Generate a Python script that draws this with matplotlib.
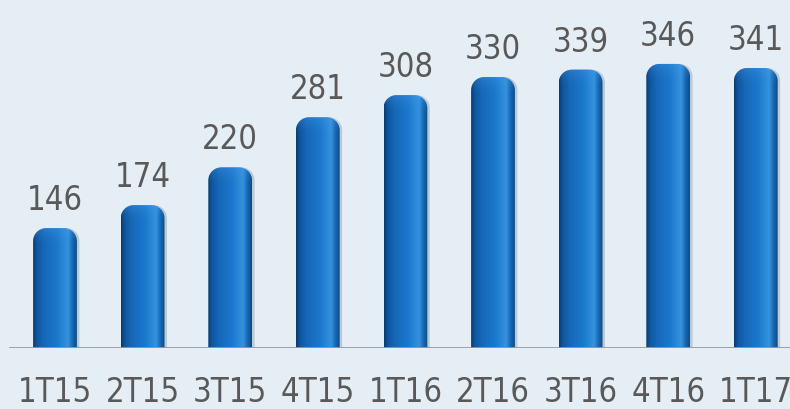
import numpy as np
import matplotlib
matplotlib.use("Agg")
import matplotlib.pyplot as plt
from matplotlib.path import Path
from matplotlib.patches import PathPatch
from matplotlib.colors import LinearSegmentedColormap

categories = ["1T15", "2T15", "3T15", "4T15", "1T16", "2T16", "3T16", "4T16", "1T17"]
values = [146, 174, 220, 281, 308, 330, 339, 346, 341]

W, H = 790, 409
bg = "#e6eef5"
fig = plt.figure(figsize=(W / 100, H / 100), dpi=100, facecolor=bg)
base_px = 61
ax = fig.add_axes([0, base_px / H, 1, 1 - base_px / H])
ax.set_facecolor(bg)

x0_px, step_px = 55, 87.6
xlim = (-x0_px / step_px, (W - x0_px) / step_px)
ppu = 0.821
ylim = (0, (H - base_px) / ppu)
ax.set_xlim(*xlim)
ax.set_ylim(*ylim)
for s in ax.spines.values():
    s.set_visible(False)

px_x = W / (xlim[1] - xlim[0])
px_y = (H - base_px) / (ylim[1] - ylim[0])

bw = 0.5
r_px = 13
rx, ry = r_px / px_x, r_px / px_y
k = 0.5523

cmap = LinearSegmentedColormap.from_list("cyl", [
    (0.00, "#0a3a6a"), (0.08, "#0f559c"), (0.25, "#1668b8"),
    (0.55, "#1b78cc"), (0.72, "#2c8ad8"), (0.80, "#3592de"),
    (0.90, "#1669b4"), (1.00, "#0c4a86")])
grad = np.linspace(0, 1, 256)[None, :]

font = dict(fontsize=23.5, color="#595959", fontfamily="DejaVu Sans",
            fontstretch="condensed")

for i, v in enumerate(values):
    l, r = i - bw / 2, i + bw / 2
    t = v
    verts = [(l, 0), (l, t - ry),
             (l, t - ry + k * ry), (l + rx - k * rx, t), (l + rx, t),
             (r - rx, t),
             (r - rx + k * rx, t), (r, t - ry + k * ry), (r, t - ry),
             (r, 0), (l, 0)]
    codes = [Path.MOVETO, Path.LINETO,
             Path.CURVE4, Path.CURVE4, Path.CURVE4,
             Path.LINETO,
             Path.CURVE4, Path.CURVE4, Path.CURVE4,
             Path.LINETO, Path.CLOSEPOLY]
    path = Path(verts, codes)
    sh = PathPatch(Path([(x + 2.5 / px_x, y) for x, y in verts], codes),
                   facecolor="#bccad6", edgecolor="none", zorder=1)
    ax.add_patch(sh)
    patch = PathPatch(path, facecolor="none", edgecolor="none", zorder=2)
    ax.add_patch(patch)
    im = ax.imshow(grad, cmap=cmap, aspect="auto", extent=(l, r, 0, t),
                   zorder=2, interpolation="bilinear")
    im.set_clip_path(patch)
    hl = np.linspace(0, 1, 64)[:, None] * np.ones((1, 2))
    cap = ax.imshow(np.dstack([np.full_like(hl, 0.30), np.full_like(hl, 0.60),
                               np.full_like(hl, 0.92), 0.35 * hl ** 2]),
                    aspect="auto", extent=(l, r, t - 1.6 * ry, t), zorder=3,
                    interpolation="bilinear", origin="lower")
    cap.set_clip_path(patch)
    ax.annotate(str(v), (i, t), xytext=(0, 8), textcoords="offset points",
                ha="center", va="bottom", **font)

ax.set_xticks(range(len(categories)))
ax.set_xticklabels(categories, **font)
ax.tick_params(axis="x", length=0, pad=20)
ax.set_yticks([])
ax.axhline(0, xmin=10 / W, xmax=1, color="#999999", lw=2, zorder=4)

fig.savefig("out.png", dpi=100, facecolor=bg)
